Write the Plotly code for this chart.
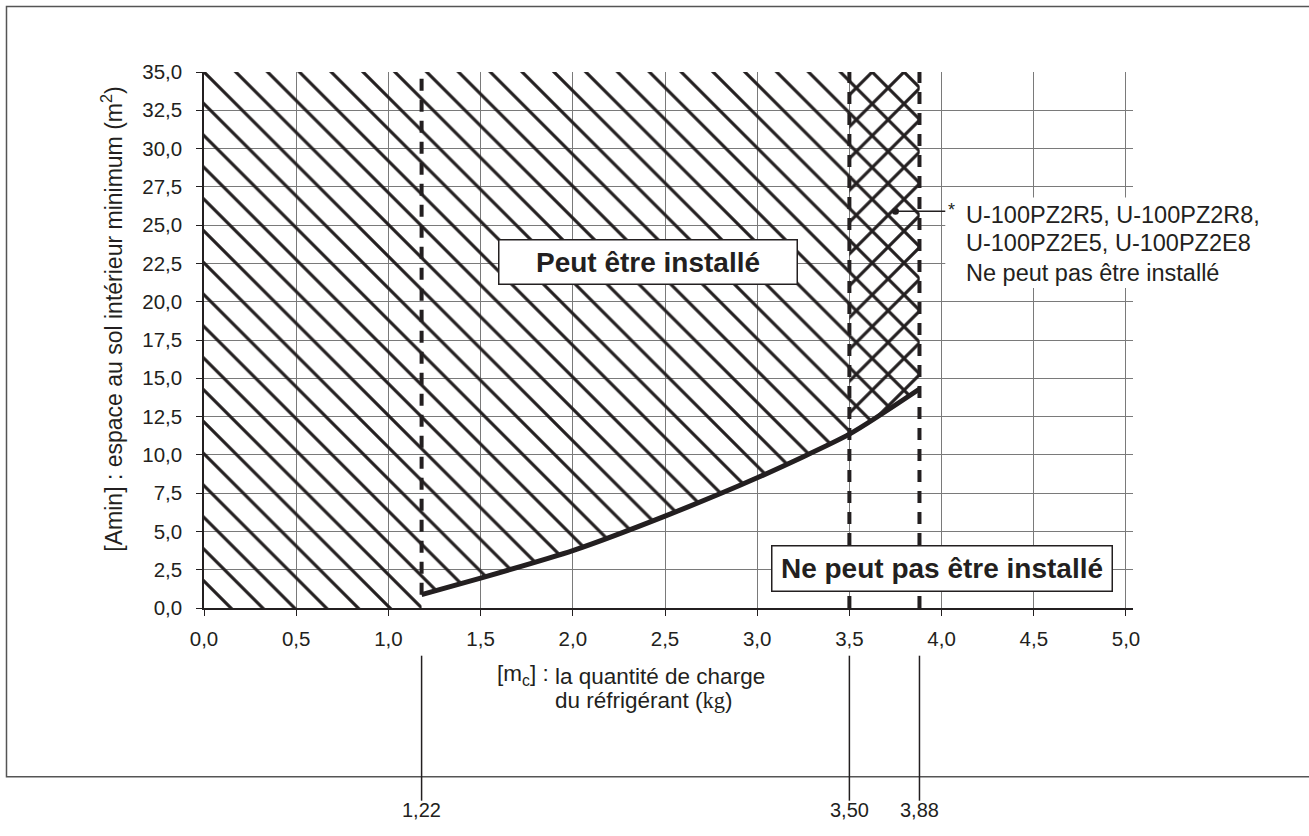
import plotly.graph_objects as go

# -------------------------------------------------------------------------- #
# minimum floor area vs refrigerant charge
# -------------------------------------------------------------------------- #

charge_kg = [1.18, 1.5, 2.0, 2.5, 3.0, 3.5, 3.88]      # [mc] kg
area_min = [0.87, 1.95, 3.75, 6.0, 8.5, 11.35, 14.3]   # [Amin] m2

limit_pos = [1.18, 3.50, 3.88]          # vertical limit lines (as drawn)
limit_labels = ["1,22", "3,50", "3,88"]
limit_bottom = [0.87, 0.0, 0.0]

x_ticks = [0.0, 0.5, 1.0, 1.5, 2.0, 2.5, 3.0, 3.5, 4.0, 4.5, 5.0]
y_ticks = [0.0, 2.5, 5.0, 7.5, 10.0, 12.5, 15.0, 17.5, 20.0, 22.5,
           25.0, 27.5, 30.0, 32.5, 35.0]
y_top = 35.0
x_end = 5.038

model_lines = ["U-100PZ2R5, U-100PZ2R8,", "U-100PZ2E5, U-100PZ2E8",
               "Ne peut pas être installé"]
model_y = [25.66, 23.83, 21.87]
dot_x, dot_y = 3.75, 25.9

INK = "#231f20"
GRID = "#7a7a7a"
FONT = "Liberation Sans, Arial, sans-serif"
HATCH = 22.5   # pattern tile, px

fig = go.Figure()

# hatched area "\" : everything above the curve up to 3,88 kg
hatch_x = [0.0, charge_kg[0]] + charge_kg + [charge_kg[-1], 0.0]
hatch_y = [0.0, 0.0] + area_min + [y_top, y_top]
fig.add_trace(go.Scatter(
    x=hatch_x, y=hatch_y, mode="lines", fill="toself",
    fillcolor="rgba(0,0,0,0)", line=dict(width=0),
    fillpattern=dict(shape="\\", fgcolor=INK, fgopacity=1,
                     bgcolor="rgba(0,0,0,0)", size=HATCH, solidity=0.14),
    hoverinfo="skip"))

# cross hatch "/" between 3,50 and 3,88
cx = [c for c in charge_kg if c >= limit_pos[1]]
cy = [a for c, a in zip(charge_kg, area_min) if c >= limit_pos[1]]
fig.add_trace(go.Scatter(
    x=cx + [cx[-1], cx[0]], y=cy + [y_top, y_top], mode="lines", fill="toself",
    fillcolor="rgba(0,0,0,0)", line=dict(width=0),
    fillpattern=dict(shape="/", fgcolor=INK, fgopacity=1,
                     bgcolor="rgba(0,0,0,0)", size=HATCH, solidity=0.14),
    hoverinfo="skip"))

# dashed limits
for p, b in zip(limit_pos, limit_bottom):
    fig.add_trace(go.Scatter(x=[p, p], y=[b, y_top], mode="lines",
                             line=dict(color=INK, width=4, dash="12px,9px"),
                             hoverinfo="skip"))

# the curve
fig.add_trace(go.Scatter(x=charge_kg, y=area_min, mode="lines",
                         line=dict(color=INK, width=5, shape="spline",
                                   smoothing=0.6),
                         hoverinfo="skip"))

# leader dot
fig.add_trace(go.Scatter(x=[dot_x], y=[dot_y], mode="markers",
                         marker=dict(color=INK, size=7), hoverinfo="skip"))

# white patch behind the model note, leader line
fig.add_shape(type="rect", xref="x", yref="y", x0=4.02, x1=x_end,
              y0=20.9, y1=26.8, fillcolor="white", line=dict(width=0),
              layer="above")
fig.add_shape(type="line", xref="x", yref="y", x0=dot_x, x1=4.02,
              y0=dot_y, y1=dot_y, line=dict(color=INK, width=1.5))

# leader lines under the chart
for p in limit_pos:
    fig.add_shape(type="line", xref="x", yref="paper", x0=p, x1=p,
                  y0=-0.089, y1=-0.3595, line=dict(color=INK, width=1.5))

# outer frame
fig.add_shape(type="rect", xref="paper", yref="paper", x0=-0.2126, x1=1.2,
              y0=-0.3147, y1=1.122, line=dict(color="#555555", width=1.5),
              layer="below")

ann = []
for p, lab in zip(limit_pos, limit_labels):
    ann.append(dict(x=p, y=-0.4006, xref="x", yref="paper", text=lab,
                    showarrow=False, font=dict(size=20, color=INK)))

ann.append(dict(x=-0.1173, y=0.538, xref="paper", yref="paper",
                text="[Amin] : espace au sol intérieur minimum (m<sup>2</sup>)",
                textangle=-90, showarrow=False, font=dict(size=23, color=INK)))

ann.append(dict(x=0.3132, y=-0.1556, xref="paper", yref="paper",
                xanchor="left", text="[m<sub>c</sub>] :", showarrow=False,
                font=dict(size=22.5, color=INK)))
ann.append(dict(x=0.3757, y=-0.1556, xref="paper", yref="paper",
                xanchor="left", text="la quantité de charge", showarrow=False,
                font=dict(size=22.5, color=INK)))
ann.append(dict(x=0.3757, y=-0.199, xref="paper", yref="paper",
                xanchor="left",
                text="du réfrigérant (<span style='font-family:Liberation Serif'>kg</span>)",
                showarrow=False, font=dict(size=22.5, color=INK)))

ann.append(dict(x=2.406, y=22.6, xref="x", yref="y",
                text="<b>Peut être installé</b>", showarrow=False,
                font=dict(size=28, color=INK), bgcolor="white",
                bordercolor=INK, borderwidth=1.5, borderpad=2,
                width=293, height=39))
ann.append(dict(x=4.0, y=2.56, xref="x", yref="y",
                text="<b>Ne peut pas être installé</b>", showarrow=False,
                font=dict(size=28, color=INK), bgcolor="white",
                bordercolor=INK, borderwidth=1.5, borderpad=2,
                width=335, height=40))

ann.append(dict(x=4.056, y=26.0, xref="x", yref="y", text="*",
                showarrow=False, font=dict(size=18, color=INK)))
for t, yy in zip(model_lines, model_y):
    ann.append(dict(x=4.121, y=yy, xref="x", yref="y", xanchor="left",
                    text=t, showarrow=False, font=dict(size=23.5, color=INK)))

fig.update_layout(
    width=1309, height=836,
    margin=dict(l=204, r=176, t=72, b=228),
    paper_bgcolor="white", plot_bgcolor="white",
    showlegend=False, separators=", ",
    font=dict(family=FONT, color=INK),
    annotations=ann,
    xaxis=dict(range=[0, x_end], tickvals=x_ticks, tickformat=".1f",
               showgrid=True, gridcolor=GRID, gridwidth=1, zeroline=False,
               showline=True, linecolor=INK, linewidth=1.5,
               ticks="outside", ticklen=6, tickcolor=INK,
               tickfont=dict(size=20.5, color=INK), ticklabelstandoff=6),
    yaxis=dict(range=[0, y_top], tickvals=y_ticks, tickformat=".1f",
               showgrid=True, gridcolor=GRID, gridwidth=1, zeroline=False,
               showline=True, linecolor=INK, linewidth=1.5,
               ticks="outside", ticklen=6, tickcolor=INK,
               tickfont=dict(size=20.5, color=INK), ticklabelstandoff=10),
)

# page margin off so the figure sits at the window's corner
fig.write_html("out.html", config={"displayModeBar": False},
               post_script="document.body.style.margin='0';")
